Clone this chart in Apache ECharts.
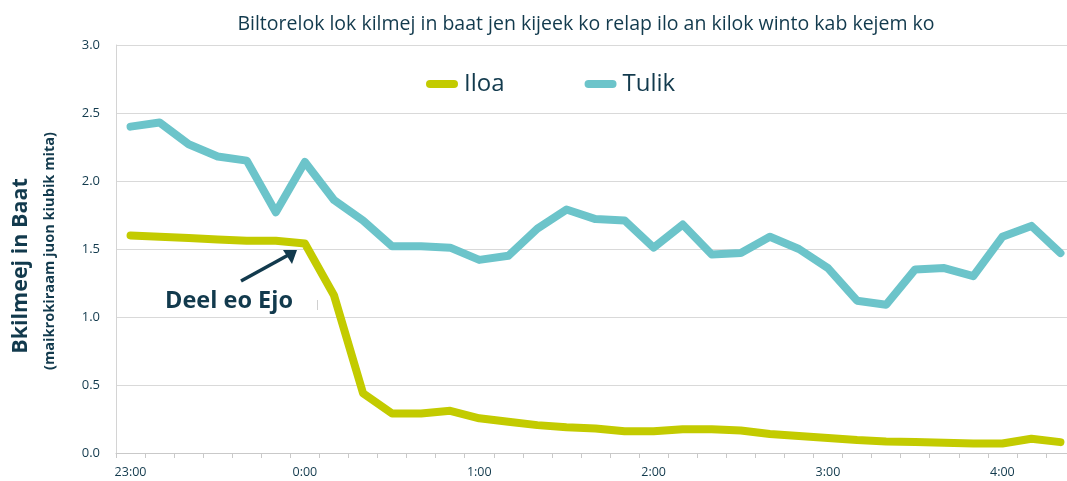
<!DOCTYPE html>
<html>
<head>
<meta charset="utf-8">
<script src="https://cdn.jsdelivr.net/npm/echarts@6/dist/echarts.min.js"></script>
<style>html,body{margin:0;padding:0;background:#fff;}#c{width:1067px;height:481px;}</style>
</head>
<body>
<div id="c"></div>
<script>
const categories = ["23:00","23:10","23:20","23:30","23:40","23:50","0:00","0:10","0:20","0:30","0:40","0:50","1:00","1:10","1:20","1:30","1:40","1:50","2:00","2:10","2:20","2:30","2:40","2:50","3:00","3:10","3:20","3:30","3:40","3:50","4:00","4:10","4:20"];
const iloa = [1.60,1.59,1.58,1.57,1.56,1.56,1.54,1.16,0.44,0.29,0.29,0.31,0.255,0.23,0.205,0.19,0.18,0.16,0.16,0.175,0.175,0.165,0.14,0.125,0.11,0.095,0.085,0.08,0.075,0.07,0.07,0.105,0.08];
const tulik = [2.40,2.43,2.27,2.18,2.15,1.77,2.14,1.86,1.71,1.52,1.52,1.51,1.42,1.45,1.65,1.79,1.72,1.71,1.51,1.68,1.46,1.47,1.59,1.50,1.36,1.12,1.09,1.35,1.36,1.30,1.59,1.67,1.47];
const seriesNames = ["Iloa","Tulik"];
const titleText = "Biltorelok lok kilmej in baat jen kijeek ko relap ilo an kilok winto kab kejem ko";
const yTitle1 = "Bkilmeej in Baat";
const yTitle2 = "(maikrokiraam juon kiubik mita)";
const annotation = "Deel eo Ejo";

const FONT = "'Open Sans', 'Noto Sans', sans-serif";
const DARK = "#123a4d";
const chart = echarts.init(document.getElementById('c'));
const pill = 'path://M4,0 H28 A4,4 0 0 1 28,8 H4 A4,4 0 0 1 4,0 Z';
chart.setOption({
  backgroundColor: '#fff',
  animation: false,
  title: {
    text: titleText, left: 581, top: 9, textAlign: 'center',
    textStyle: { fontFamily: FONT, fontSize: 19.5, fontWeight: 'normal', color: DARK }
  },
  legend: {
    left: 426, top: 72, padding: 0, itemWidth: 32, itemHeight: 8, itemGap: 80,
    data: [{name: seriesNames[0], icon: pill}, {name: seriesNames[1], icon: pill}],
    textStyle: { fontFamily: FONT, fontSize: 24, color: DARK, padding: [0,0,0,1] }
  },
  grid: { left: 116, width: 959, top: 45, bottom: 28, outerBoundsMode: 'none', containLabel: false },
  xAxis: {
    type: 'category', data: categories, boundaryGap: true,
    axisLine: { lineStyle: { color: '#c9c9c9', width: 1 } },
    axisTick: { show: true, interval: 0, length: 5, lineStyle: { color: '#c9c9c9' } },
    axisLabel: { interval: 5, margin: 13, fontFamily: FONT, fontSize: 12.5, color: DARK }
  },
  yAxis: {
    type: 'value', min: 0, max: 3, interval: 0.5,
    axisLine: { show: true, lineStyle: { color: '#d4d4d4' } },
    axisTick: { show: false },
    splitLine: { lineStyle: { color: '#d9d9d9', width: 1 } },
    axisLabel: { margin: 16, fontFamily: FONT, fontSize: 13, color: DARK, formatter: v => v.toFixed(1) }
  },
  series: [
    { name: seriesNames[0], type: 'line', data: iloa, symbol: 'none', color: '#c3cb00',
      lineStyle: { width: 8, color: '#c3cb00', cap: 'round', join: 'round' } },
    { name: seriesNames[1], type: 'line', data: tulik, symbol: 'none', color: '#6cc4ca',
      lineStyle: { width: 8, color: '#6cc4ca', cap: 'round', join: 'round' } }
  ],
  graphic: [
    { type: 'text', x: 21, y: 266, rotation: Math.PI/2,
      style: { text: yTitle1, fontFamily: FONT, fontSize: 21.5, fontWeight: 'bold', fill: DARK, textAlign: 'center', textVerticalAlign: 'middle' } },
    { type: 'text', x: 50, y: 251, rotation: Math.PI/2,
      style: { text: yTitle2, fontFamily: FONT, fontSize: 14.6, fontWeight: 'bold', fill: DARK, textAlign: 'center', textVerticalAlign: 'middle' } },
    { type: 'text', x: 229, y: 301,
      style: { text: annotation, fontFamily: FONT, fontSize: 23.5, fontWeight: 'bold', fill: DARK, textAlign: 'center', textVerticalAlign: 'middle' } },
    { type: 'line', shape: { x1: 241, y1: 281, x2: 292, y2: 253 }, style: { stroke: DARK, lineWidth: 3.5 } },
    { type: 'polygon', shape: { points: [[297, 250], [283, 250], [292, 264]] }, style: { fill: DARK } },
    { type: 'line', shape: { x1: 317.5, y1: 300, x2: 317.5, y2: 310 }, style: { stroke: '#d0d0d0', lineWidth: 1 } }
  ]
});
</script>
</body>
</html>
